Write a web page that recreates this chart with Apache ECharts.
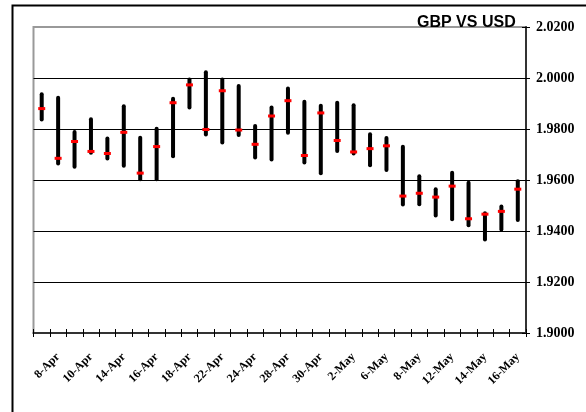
<!DOCTYPE html>
<html>
<head>
<meta charset="utf-8">
<script src="https://cdn.jsdelivr.net/npm/echarts@6/dist/echarts.min.js"></script>
<style>
  html, body { margin: 0; padding: 0; background: #fff; }
  #chart { width: 586px; height: 412px; }
</style>
</head>
<body>
<div id="chart"></div>
<script>
const categories = ['7-Apr','8-Apr','9-Apr','10-Apr','11-Apr','14-Apr','15-Apr','16-Apr','17-Apr','18-Apr',
  '21-Apr','22-Apr','23-Apr','24-Apr','25-Apr','28-Apr','29-Apr','30-Apr','1-May','2-May',
  '5-May','6-May','7-May','8-May','9-May','12-May','13-May','14-May','15-May','16-May'];
const highs = [1.9936,1.9923,1.9788,1.9838,1.9763,1.9889,1.9766,1.9801,1.9919,1.9994,
  2.0023,1.9994,1.9969,1.9812,1.9884,1.9959,1.9907,1.9891,1.9903,1.9893,
  1.9779,1.9765,1.9730,1.9615,1.9564,1.9628,1.9589,1.9470,1.9496,1.9595];
const lows = [1.9837,1.9665,1.9652,1.9707,1.9684,1.9656,1.9603,1.9603,1.9693,1.9884,
  1.9778,1.9747,1.9776,1.9688,1.9680,1.9785,1.9669,1.9626,1.9714,1.9704,
  1.9658,1.9639,1.9504,1.9505,1.9461,1.9446,1.9423,1.9367,1.9406,1.9443];
const closes = [1.9880,1.9685,1.9751,1.9712,1.9704,1.9787,1.9627,1.9731,1.9903,1.9973,
  1.9798,1.9950,1.9796,1.9740,1.9851,1.9911,1.9696,1.9863,1.9755,1.9710,
  1.9723,1.9734,1.9537,1.9548,1.9533,1.9576,1.9448,1.9466,1.9477,1.9564];
const yMin = 1.90, yMax = 2.02, yStep = 0.02;
const titleText = 'GBP VS USD';

const chart = echarts.init(document.getElementById('chart'), null, {renderer: 'canvas'});
const data = categories.map((c, i) => [i, highs[i], lows[i], closes[i]]);
const serif = "'Liberation Serif', 'Times New Roman', serif";

const option = {
  backgroundColor: '#ffffff',
  animation: false,
  title: {
    text: titleText,
    left: 412, top: 10,
    textStyle: { fontFamily: "'Liberation Sans', Arial, sans-serif", fontWeight: 'bold', fontSize: 16, color: '#000' }
  },
  grid: {
    left: 33.5, right: 60, top: 27, bottom: 79,
    show: true, borderColor: '#999999', borderWidth: 2, backgroundColor: '#ffffff'
  },
  graphic: [
    { type: 'polyline', silent: true, z: 100,
      shape: { points: [[12.5, 412], [12.5, 5.5], [586, 5.5]] },
      style: { stroke: '#000', lineWidth: 2, fill: null } }
  ],
  xAxis: [
    {
      type: 'category', data: categories, position: 'bottom', boundaryGap: true,
      axisLine: { show: true, lineStyle: { color: '#333', width: 2 } },
      axisTick: { show: true, length: 4, interval: 0, lineStyle: { color: '#000', width: 1 } },
      axisLabel: {
        interval: (idx) => idx % 2 === 1,
        rotate: 45, margin: 22,
        fontFamily: serif, fontWeight: 'bold', fontSize: 12, color: '#000'
      },
      splitLine: { show: false }
    },
    {
      type: 'category', data: categories, position: 'bottom', boundaryGap: true,
      axisLine: { show: false },
      axisTick: { show: true, inside: true, length: 4, interval: 0, lineStyle: { color: '#000', width: 1 } },
      axisLabel: { show: false },
      splitLine: { show: false }
    }
  ],
  yAxis: [
    {
      type: 'value', position: 'right', min: yMin, max: yMax, interval: yStep,
      axisLine: { show: true, lineStyle: { color: '#333', width: 2 } },
      axisTick: { show: true, length: 4, lineStyle: { color: '#000', width: 1 } },
      axisLabel: {
        margin: 10, formatter: (v) => v.toFixed(4),
        fontFamily: serif, fontWeight: 'bold', fontSize: 14, color: '#000'
      },
      splitLine: { show: true, lineStyle: { color: ['#000','#000','#000','#000','#000','#000','#999'], width: 1 } }
    },
    {
      type: 'value', position: 'right', min: yMin, max: yMax, interval: yStep,
      axisLine: { show: false },
      axisTick: { show: true, inside: true, length: 4, lineStyle: { color: '#000', width: 1 } },
      axisLabel: { show: false },
      splitLine: { show: false }
    }
  ],
  series: [{
    type: 'custom',
    xAxisIndex: 0, yAxisIndex: 0,
    encode: { x: 0, y: [1, 2, 3] },
    data: data,
    z: 10,
    renderItem: function (params, api) {
      const i = api.value(0);
      const hi = api.coord([i, api.value(1)]);
      const lo = api.coord([i, api.value(2)]);
      const c = api.coord([i, api.value(3)]);
      return {
        type: 'group',
        children: [
          { type: 'line', shape: { x1: hi[0], y1: hi[1], x2: lo[0], y2: lo[1] },
            style: { stroke: '#000', lineWidth: 4, lineCap: 'round' } },
          { type: 'rect', shape: { x: c[0] - 3.5, y: c[1] - 1.5, width: 7, height: 3 },
            style: { fill: '#ff0000' } }
        ]
      };
    }
  }]
};
chart.setOption(option);
</script>
</body>
</html>
